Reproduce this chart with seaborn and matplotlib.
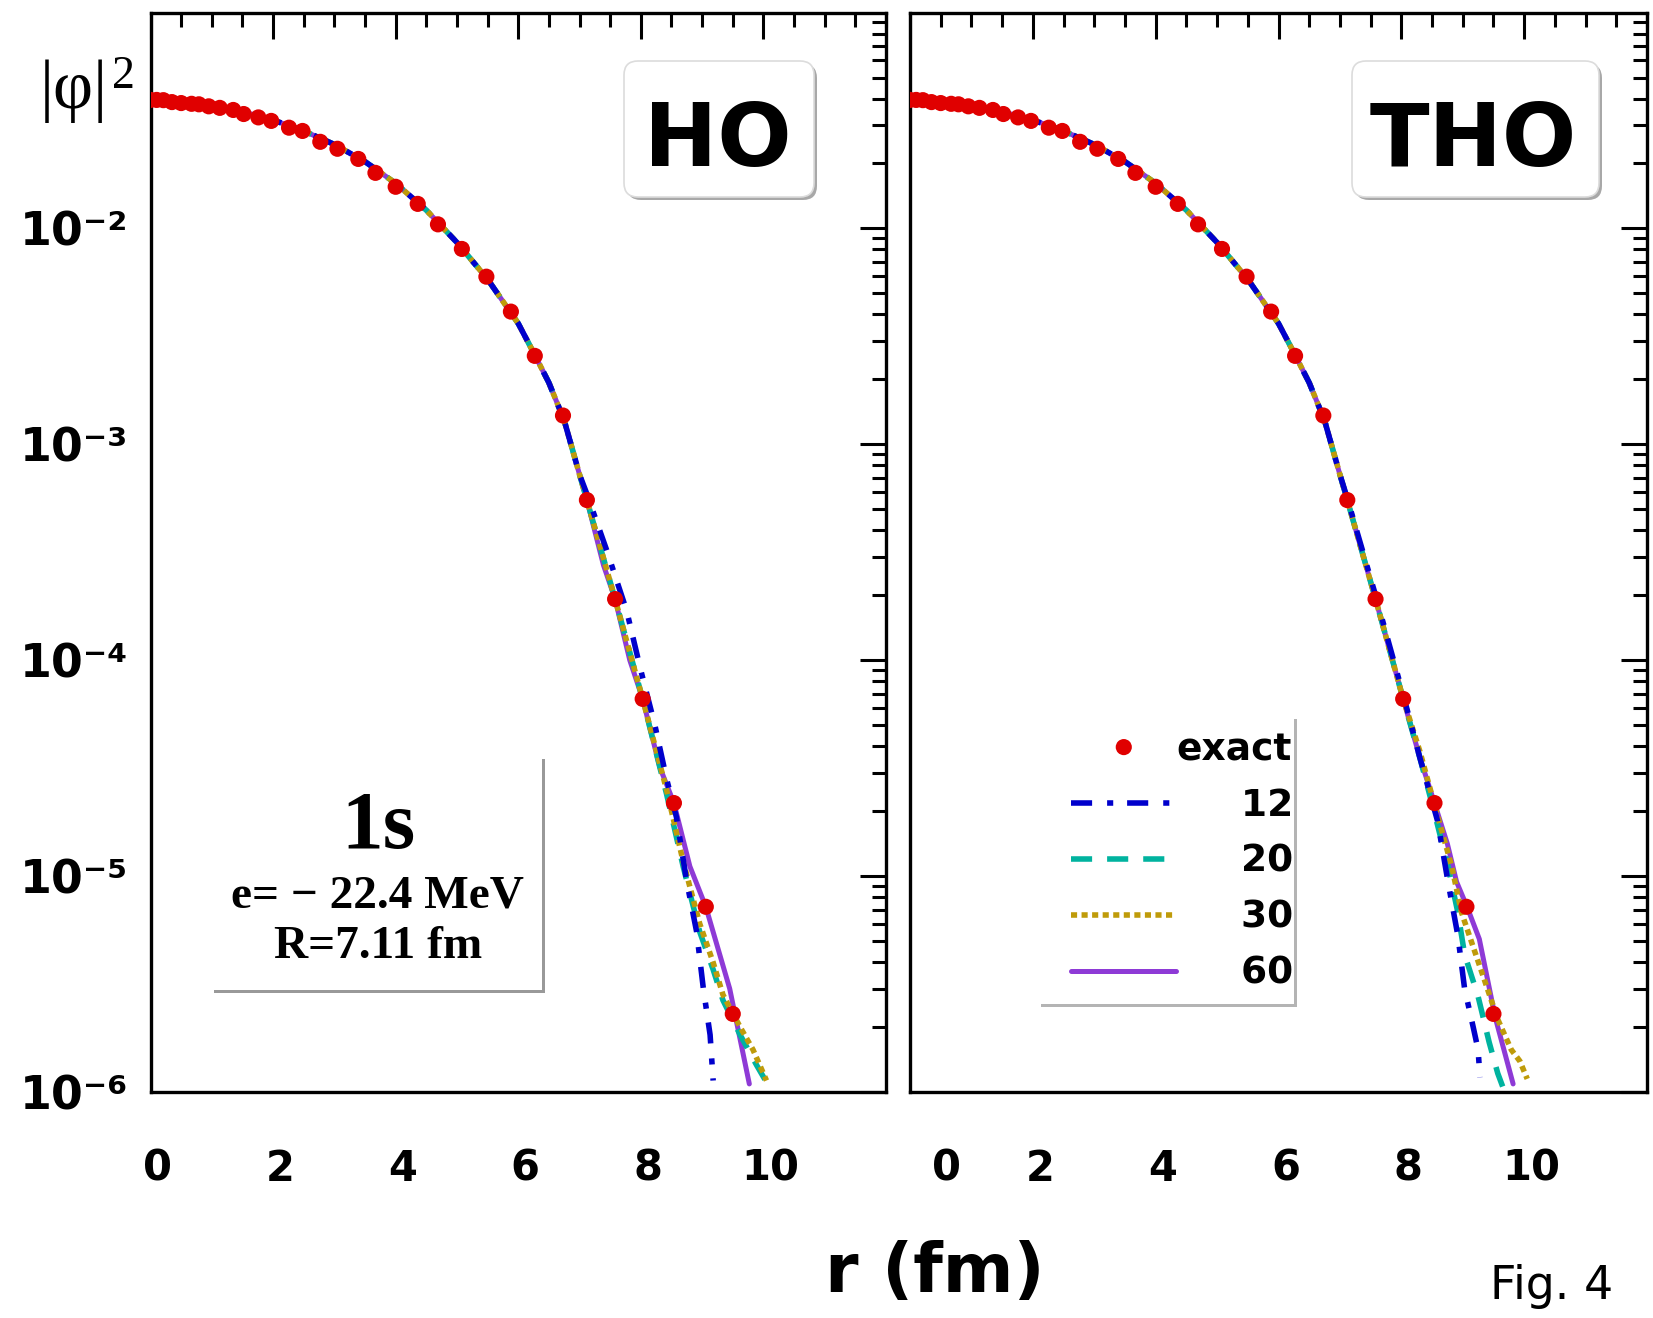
import matplotlib
matplotlib.use("Agg")
import matplotlib.pyplot as plt
import matplotlib.transforms as mtransforms
import seaborn as sns
from matplotlib.patches import FancyBboxPatch
from matplotlib.ticker import LogLocator, MultipleLocator, NullFormatter

# exact solution (red dots)
exact_r = [0.00, 0.10, 0.21, 0.35, 0.50, 0.67, 0.79, 0.95, 1.13, 1.35, 1.52, 1.76,
           1.97, 2.26, 2.48, 2.77, 3.05, 3.39, 3.67, 4.00, 4.36, 4.69, 5.08, 5.48,
           5.88, 6.27, 6.73, 7.12, 7.58, 8.03, 8.54, 9.06, 9.50]
exact_v = [0.0394, 0.0394, 0.0393, 0.0385, 0.0381, 0.0378, 0.0376, 0.0368, 0.0362,
           0.0354, 0.0339, 0.0327, 0.0315, 0.0293, 0.0283, 0.0252, 0.0234, 0.0210,
           0.0181, 0.0156, 0.0130, 0.01045, 0.00804, 0.00598, 0.00412, 0.00257,
           0.00136, 5.52e-4, 1.92e-4, 6.62e-5, 2.18e-5, 7.21e-6, 2.30e-6]

# inner part, where all basis sizes lie on top of each other
head_r = [0.0, 0.5, 1.0, 1.5, 2.0, 2.5, 3.0, 3.5, 4.0, 4.5, 5.0, 5.5, 6.0, 6.25,
          6.5, 6.75, 7.0]
head_v = [0.0398, 0.0387, 0.0372, 0.0348, 0.0318, 0.0283, 0.0245, 0.0204, 0.0162,
          0.01216, 0.00861, 0.00582, 0.00363, 0.00266, 0.00193, 0.00129, 7.24e-4]

# tails, HO basis (left)
ho12_r = [7.12, 7.44, 7.77, 7.99, 8.23, 8.42, 8.58, 8.75, 8.91, 9.02, 9.13, 9.18]
ho12_v = [5.89e-4, 3.25e-4, 1.69e-4, 9.20e-5, 4.99e-5, 2.82e-5, 1.88e-5, 9.40e-6,
          5.53e-6, 3.01e-6, 1.84e-6, 1.13e-6]
ho20_r = [7.12, 7.58, 8.03, 8.42, 8.69, 8.96, 9.18, 9.34, 9.62, 9.89, 10.05]
ho20_v = [5.52e-4, 1.92e-4, 6.62e-5, 2.40e-5, 1.11e-5, 5.53e-6, 3.69e-6, 2.66e-6,
          1.84e-6, 1.33e-6, 1.11e-6]
ho30_r = [7.12, 7.58, 8.03, 8.42, 8.69, 8.96, 9.18, 9.34, 9.62, 9.83, 10.05]
ho30_v = [5.52e-4, 1.92e-4, 6.62e-5, 2.51e-5, 1.17e-5, 6.03e-6, 3.98e-6, 2.82e-6,
          2.00e-6, 1.57e-6, 1.13e-6]
ho60_r = [7.12, 7.39, 7.58, 7.82, 8.03, 8.31, 8.54, 8.80, 9.06, 9.45, 9.77]
ho60_v = [5.52e-4, 2.76e-4, 1.92e-4, 1.00e-4, 6.62e-5, 3.19e-5, 2.18e-5, 1.11e-5,
          7.21e-6, 3.01e-6, 1.09e-6]

# tails, THO basis (right)
tho12_r = [7.12, 7.58, 8.03, 8.30, 8.59, 8.76, 8.92, 9.03, 9.17, 9.25, 9.28]
tho12_v = [5.62e-4, 2.00e-4, 6.92e-5, 3.55e-5, 1.80e-5, 9.40e-6, 5.31e-6, 3.01e-6,
           2.00e-6, 1.57e-6, 1.17e-6]
tho20_r = [7.12, 7.58, 8.03, 8.30, 8.54, 8.76, 8.92, 9.03, 9.25, 9.43, 9.57, 9.65]
tho20_v = [5.52e-4, 1.92e-4, 6.62e-5, 3.55e-5, 1.96e-5, 1.11e-5, 6.79e-6, 4.34e-6,
           2.77e-6, 1.70e-6, 1.22e-6, 1.06e-6]
tho30_r = [7.12, 7.58, 8.03, 8.30, 8.54, 8.82, 8.98, 9.17, 9.36, 9.57, 9.79, 9.93, 10.05]
tho30_v = [5.52e-4, 1.92e-4, 6.62e-5, 3.80e-5, 2.14e-5, 1.11e-5, 6.79e-6, 4.70e-6,
           3.26e-6, 2.17e-6, 1.57e-6, 1.39e-6, 1.15e-6]
tho60_r = [7.12, 7.58, 8.03, 8.30, 8.54, 8.75, 8.90, 9.07, 9.27, 9.46, 9.53, 9.82]
tho60_v = [5.52e-4, 1.92e-4, 6.62e-5, 3.55e-5, 2.18e-5, 1.41e-5, 9.40e-6, 7.21e-6,
           5.11e-6, 2.77e-6, 2.21e-6, 1.09e-6]

basis_sizes = ["12", "20", "30", "60"]
y_ticks = [1e-6, 1e-5, 1e-4, 1e-3, 1e-2]
y_ticklabels = ["10⁻⁶", "10⁻⁵", "10⁻⁴", "10⁻³", "10⁻²"]
x_ticks = [0, 2, 4, 6, 8, 10]

styles = {
    "12": dict(color="#0000cc", lw=4.0, ls=(0, (3.8, 2.7, 1.1, 2.5)), z=5),
    "20": dict(color="#00b39f", lw=4.0, ls=(0, (3.8, 2.7)), z=3),
    "30": dict(color="#bf9b0a", lw=4.0, ls=(0, (1.1, 0.8)), z=4),
    "60": dict(color="#8e3ad6", lw=3.6, ls="-", z=2),
}

sns.set_theme(style="white")
plt.rcParams["font.family"] = ["DejaVu Sans"]
for key in ["text.color", "axes.labelcolor", "xtick.color", "ytick.color", "axes.edgecolor"]:
    plt.rcParams[key] = "black"

W, H = 1653, 1318
fig = plt.figure(figsize=(W / 100, H / 100), dpi=100)


def px_axes(x0, y0, x1, y1):
    return fig.add_axes([x0 / W, 1 - y1 / H, (x1 - x0) / W, (y1 - y0) / H])


def ftext(x, y, s, **kw):
    return fig.text(x / W, 1 - y / H, s, zorder=6, color="black", **kw)


def shadow_box(x0, y0, x1, y1, rad, edge, shade, off=3, ax=None, z=3):
    style = f"round,pad=0,rounding_size={rad / 100}" if rad else "square,pad=0"
    for d, fc, ec in [(off, shade, "none"), (0, "white", edge)]:
        p = FancyBboxPatch((x0 / 100 + d / 100, (H - y1) / 100 - d / 100),
                           (x1 - x0) / 100, (y1 - y0) / 100, boxstyle=style,
                           transform=fig.dpi_scale_trans, fc=fc, ec=ec, lw=1.2,
                           zorder=z, clip_on=False)
        if ax is None:
            fig.add_artist(p)
        else:
            ax.add_artist(p)


def draw_panel(ax, tails, show_ylabels):
    ax.set_yscale("log")
    for name in ["60", "20", "30", "12"]:
        st = styles[name]
        rr, vv = tails[name]
        sns.lineplot(x=head_r + rr, y=head_v + vv, ax=ax, color=st["color"],
                     linewidth=st["lw"], linestyle=st["ls"], sort=False,
                     estimator=None, label=name, legend=False, zorder=st["z"])
    sns.scatterplot(x=exact_r, y=exact_v, ax=ax, color="#e00000", s=135,
                    edgecolor="none", linewidth=0, zorder=6, label="exact", legend=False)

    ax.set_xlim(0, 12)
    ax.set_ylim(1e-6, 1e-1)
    ax.set_xlabel("")
    ax.set_ylabel("")
    ax.set_xticks(x_ticks, [str(t) for t in x_ticks], fontweight="bold", fontsize=30)
    ax.xaxis.set_minor_locator(MultipleLocator(0.5))
    ax.set_yticks(y_ticks, y_ticklabels, fontweight="bold", fontsize=33)
    ax.yaxis.set_minor_locator(LogLocator(base=10, subs=range(2, 10), numticks=50))
    ax.yaxis.set_minor_formatter(NullFormatter())
    ax.tick_params(which="both", direction="in", top=True, right=True,
                   width=2.2, color="black", labelcolor="black")
    ax.tick_params(which="major", length=19)
    ax.tick_params(which="minor", length=10)
    ax.tick_params(axis="x", pad=40)
    ax.tick_params(axis="y", pad=16, labelleft=show_ylabels)
    for sp in ax.spines.values():
        sp.set_linewidth(2.4)
        sp.set_color("black")
        sp.set_visible(True)
    ax.set_facecolor("white")


ax_l = px_axes(150.5, 12.6, 886, 1092)
ax_r = px_axes(910, 12.6, 1647, 1092)

draw_panel(ax_l, {"12": (ho12_r, ho12_v), "20": (ho20_r, ho20_v),
                  "30": (ho30_r, ho30_v), "60": (ho60_r, ho60_v)}, True)
draw_panel(ax_r, {"12": (tho12_r, tho12_v), "20": (tho20_r, tho20_v),
                  "30": (tho30_r, tho30_v), "60": (tho60_r, tho60_v)}, False)

# the x labels sit a little right of their ticks in the original
for ax in (ax_l, ax_r):
    for i, lab in enumerate(ax.get_xticklabels()):
        shift = 0.36 if (ax is ax_r and i == 0) else 0.07
        lab.set_transform(lab.get_transform()
                          + mtransforms.ScaledTranslation(shift, 0, fig.dpi_scale_trans))

# legend on the THO panel, on a white card with a grey drop shadow
shadow_box(1038, 716, 1294, 1004, 0, "none", "#b4b4b4", ax=ax_r, z=1)
hs, ls = ax_r.get_legend_handles_labels()
lookup = dict(zip(ls, hs))
order = ["exact"] + basis_sizes
labels = ["exact"] + ["     " + n for n in basis_sizes]
ax_r.legend([lookup[k] for k in order], labels, loc="lower right",
            bbox_to_anchor=(0.5204, 0.0929), borderaxespad=0, frameon=False,
            prop={"weight": "bold", "size": 27}, handlelength=2.8,
            handletextpad=0.0, labelspacing=0.53, borderpad=0.0,
            scatterpoints=1, scatteryoffsets=[0.5])

# boxes
shadow_box(624, 61, 814, 197, 14, "#dcdcdc", "#a8a8a8")
shadow_box(1352, 61, 1599, 197, 14, "#dcdcdc", "#a8a8a8")
shadow_box(211, 756, 542, 990, 0, "none", "#999999")

ftext(718, 166, "HO", ha="center", va="baseline", fontsize=63, fontweight="bold")
ftext(1473, 166, "THO", ha="center", va="baseline", fontsize=63, fontweight="bold")

serif = ["Liberation Serif", "DejaVu Serif"]
ftext(378, 848, "1s", ha="center", va="baseline", fontsize=60, fontweight="bold", family=serif)
ftext(377, 907, "e= − 22.4 MeV", ha="center", va="baseline", fontsize=34,
      fontweight="bold", family=serif)
ftext(378, 958, "R=7.11 fm", ha="center", va="baseline", fontsize=34,
      fontweight="bold", family=serif)

ftext(40, 108, "|φ|", ha="left", va="baseline", fontsize=50, family=serif)
ftext(112, 88, "2", ha="left", va="baseline", fontsize=33, family=serif)

ftext(935, 1292, "r (fm)", ha="center", va="baseline", fontsize=49, fontweight="bold")
ftext(1552, 1299, "Fig. 4", ha="center", va="baseline", fontsize=33)

fig.savefig("out.png", dpi=100, facecolor="white")
